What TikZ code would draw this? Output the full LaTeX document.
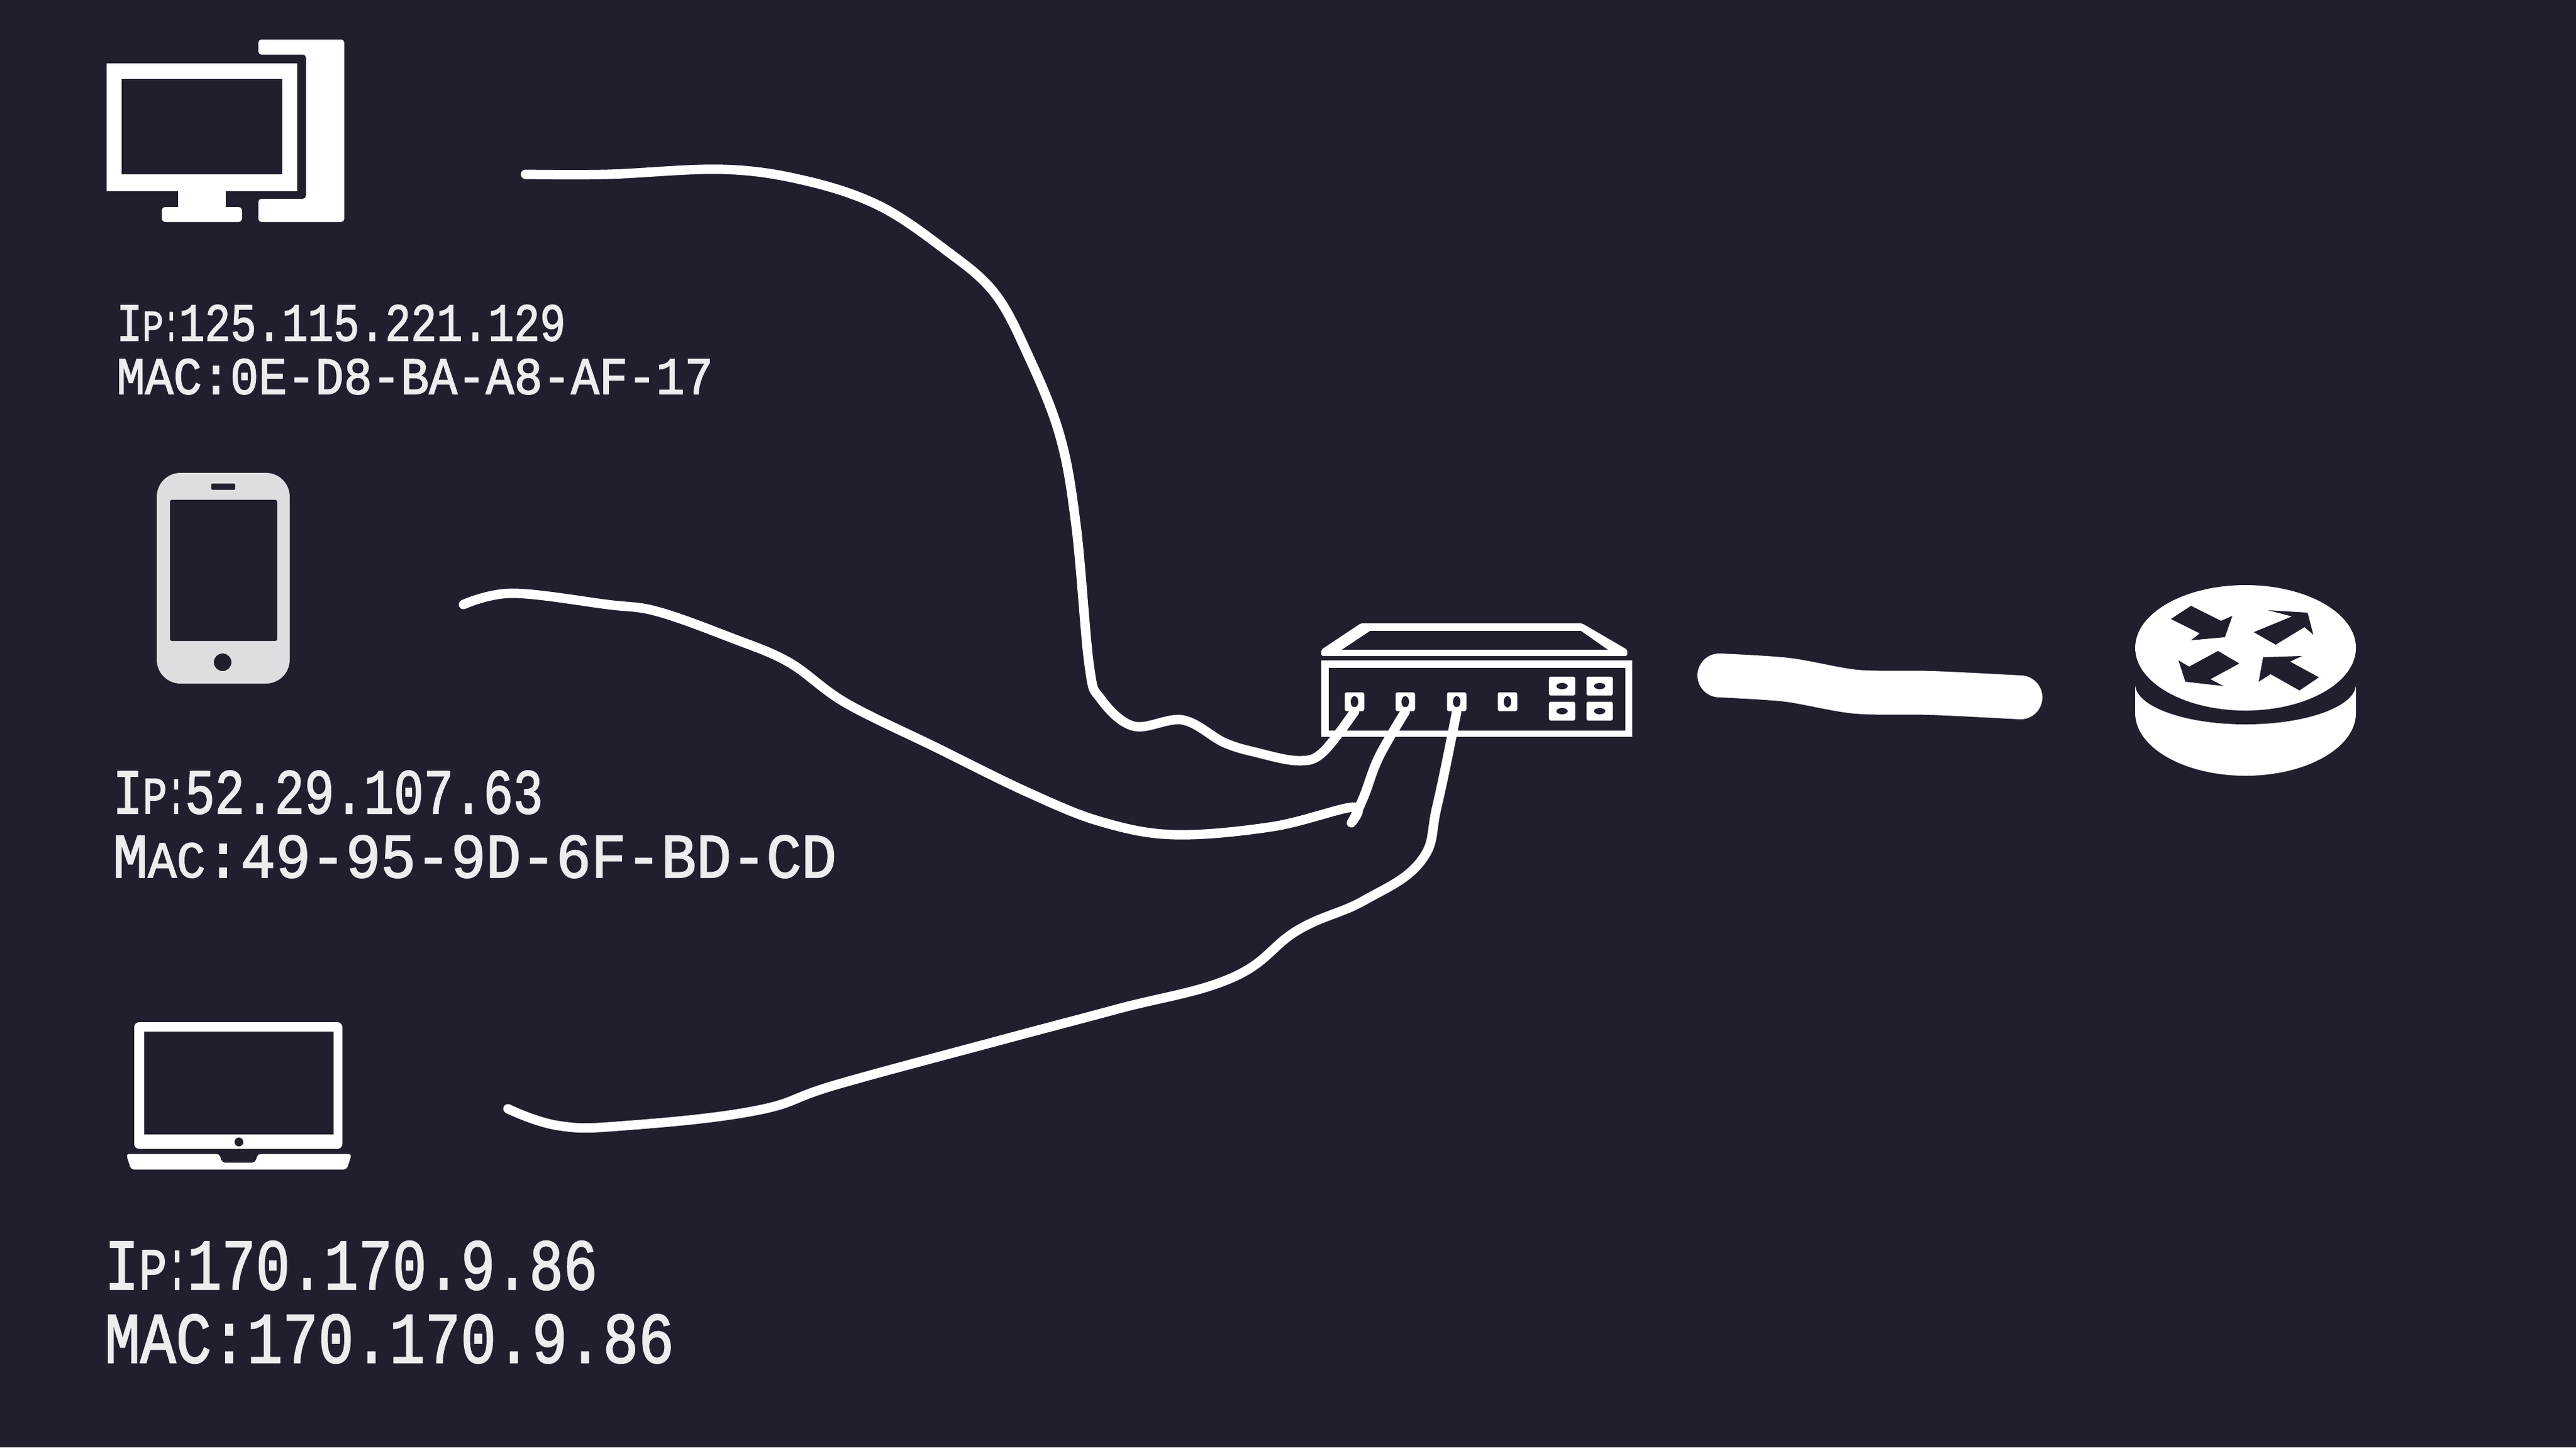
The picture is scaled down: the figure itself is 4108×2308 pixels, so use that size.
\documentclass[tikz,border=0pt]{standalone}
\usepackage{fontspec}
\usepackage{graphicx}
\setmainfont[FakeBold=2]{Liberation Mono}
\definecolor{bgdark}{HTML}{1F1F2E}
\definecolor{icongray}{HTML}{DEDEE0}
\definecolor{addrwhite}{HTML}{EDEDF0}
\newlength{\unitpx}
\setlength{\unitpx}{0.01cm}
\newcommand{\addr}[3]{\resizebox{#1\unitpx}{#2\unitpx}{#3}}
\newcommand{\smcap}[1]{\scalebox{.82}{#1}}
\newcommand{\cln}{\scalebox{.6}[1]{:}}
\tikzset{
  icon/.style={fill=white},
  cable/.style={draw=white,line width=.15cm,line cap=round,line join=round},
  addrline/.style={anchor=south west,inner sep=0pt,outer sep=0pt,text=addrwhite},
  portbox/.style={fill=white,inner sep=0pt,minimum width=.31cm,minimum height=.30cm,rounded corners=.03cm},
  uplinkbox/.style={fill=white,inner sep=0pt,minimum width=.42cm,minimum height=.30cm,rounded corners=.03cm},
}
\begin{document}
\begin{tikzpicture}[x=0.01cm,y=-0.01cm]
            \fill[bgdark] (0,0) rectangle (4108,2308);
            % Coordinates
            \coordinate (pcEnd) at (838,278);
            \coordinate (phoneEnd) at (739,964);
            \coordinate (laptopEnd) at (810,1768);
            \coordinate (trunkA) at (2742,1077);
            \coordinate (trunkB) at (3222,1112);

            % Desktop
            \fill[icon,rounded corners=.05cm] (412,63) -- (549,63) -- (549,354) -- (412,354) -- (412,317) -- (488,317) -- (488,87) -- (412,87) -- cycle;
            \fill[icon] (170,101) rectangle (474,305);
            \fill[bgdark] (194,126) rectangle (450,278);
            \fill[icon] (284,305) rectangle (360,332);
            \fill[icon,rounded corners=.06cm] (258,354) -- (258,330) -- (386,330) -- (386,354) -- cycle;

            % Phone
            \fill[icongray,rounded corners=.38cm] (250,754) rectangle (462,1090);
            \fill[bgdark,rounded corners=.03cm] (271,797) rectangle (442,1022);
            \fill[bgdark,rounded corners=.02cm] (337,771) rectangle (375,781);
            \fill[bgdark] (355,1056) circle (14);

            % Laptop
            \fill[icon,rounded corners=.08cm] (214,1630) rectangle (546,1832);
            \fill[bgdark] (230,1645) rectangle (532,1809);
            \fill[bgdark] (381,1821) circle (7);
            \fill[icon,rounded corners=.05cm] (201,1840) -- (350,1840) -- (354,1854) -- (407,1854) -- (411,1840) -- (561,1840) -- (553,1865) -- (209,1865) -- cycle;

            % Switch
            \fill[icon,rounded corners=.03cm] (2107,1046) -- (2107,1036) -- (2170,994) -- (2523,994) -- (2595,1036) -- (2595,1046) -- cycle;
            \fill[bgdark] (2140,1036) -- (2185,1006) -- (2521,1006) -- (2564,1036) -- cycle;
            \fill[icon] (2107,1053) rectangle (2603,1175);
            \fill[bgdark] (2119,1065) rectangle (2592,1165);
            \foreach \name/\px in {portA/2160,portB/2241,portC/2323,portD/2404} {
                \node[portbox] (\name) at (\px,1119) {};
                \fill[bgdark] (\name.center) ellipse (6 and 9);
            }
            \foreach \name/\px/\py in {upA/2491/1094,upB/2551/1094,upC/2491/1134,upD/2551/1134} {
                \node[uplinkbox] (\name) at (\px,\py) {};
                \fill[bgdark] (\name.center) ellipse (9 and 5);
            }

            % Router
            \fill[icon] (3405,1091) -- (3757,1091) -- (3757,1137) arc (0:-180:176 and -100) -- cycle;
            \fill[bgdark] (3581,1091) ellipse (176 and 64);
            \fill[icon] (3581,1033) ellipse (176 and 100);
            \fill[bgdark] (3494,966) -- (3542,990) -- (3560,982) -- (3548,1016) -- (3494,1021) -- (3508,1010) -- (3462,987) -- cycle;
            \fill[bgdark] (3594,1008) -- (3655,983) -- (3617,973) -- (3680,977) -- (3689,1012) -- (3675,1000) -- (3629,1028) -- cycle;
            \fill[bgdark] (3609,1048) -- (3671,1046) -- (3652,1055) -- (3698,1080) -- (3667,1101) -- (3621,1075) -- (3602,1087) -- cycle;
            \fill[bgdark] (3537,1038) -- (3491,1063) -- (3474,1053) -- (3485,1087) -- (3546,1094) -- (3525,1083) -- (3571,1058) -- cycle;

            % Labels
            \node[addrline] (ipA) at (186,544) {\addr{716}{57}{I\smcap{P}\cln 125.115.221.129}};
            \node[addrline] (macA) at (186,629) {\addr{951}{56}{MAC:0E-D8-BA-A8-AF-17}};
            \node[addrline] (ipB) at (180,1298) {\addr{686}{68}{I\smcap{P}\cln 52.29.107.63}};
            \node[addrline] (macB) at (180,1400) {\addr{1154}{67}{M\smcap{A}\smcap{C}:49-95-9D-6F-BD-CD}};
            \node[addrline] (ipC) at (167,2057) {\addr{786}{77}{I\smcap{P}\cln 170.170.9.86}};
            \node[addrline] (macC) at (167,2174) {\addr{908}{77}{MAC:170.170.9.86}};

            % draw cables
            \draw[cable] plot[smooth,tension=.6] coordinates {(pcEnd) (969,278) (1153,270) (1284,288) (1402,328) (1507,398) (1585,466) (1638,563) (1690,694) (1716,838) (1737,1061) (1755,1114) (1808,1158) (1886,1148) (1952,1184) (2004,1200) (2070,1213) (2109,1200) (portA.south)};
            \draw[cable] plot[smooth,tension=.6] coordinates {(phoneEnd) (817,946) (969,964) (1048,975) (1166,1017) (1258,1056) (1349,1121) (1493,1192) (1638,1263) (1755,1310) (1873,1331) (2030,1318) (2158,1287) (2155,1312) (2175,1270) (2199,1207) (portB.south)};
            \draw[cable] plot[smooth,tension=.7] coordinates {(laptopEnd) (891,1795) (996,1795) (1205,1771) (1336,1729) (1598,1658) (1782,1609) (1965,1559) (2070,1483) (2175,1436) (2266,1373) (2292,1284) (portC.south)};
            \draw[white,line width=.7cm,line cap=round] plot[smooth,tension=.5] coordinates {(trunkA) (2850,1084) (2960,1103) (3080,1105) (trunkB)};
        \end{tikzpicture}
\end{document}
